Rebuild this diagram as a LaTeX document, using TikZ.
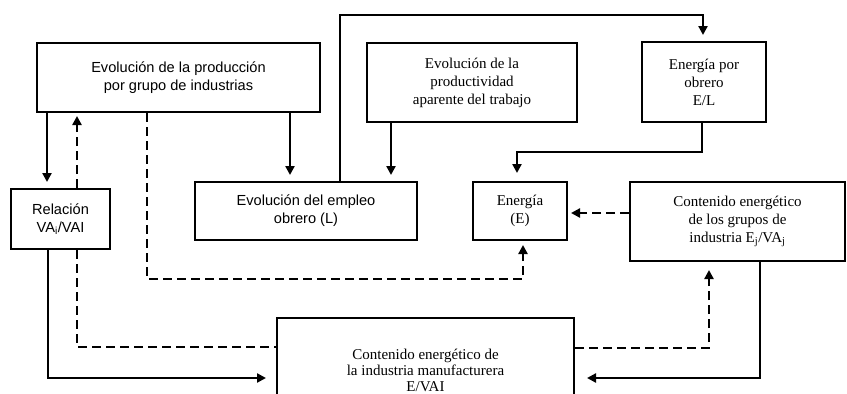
\documentclass[tikz,border=0pt]{standalone}
\usepackage{fontspec}
\setmainfont{Liberation Serif}
\setsansfont{Liberation Sans}
\usetikzlibrary{arrows.meta}
\begin{document}
\begin{tikzpicture}[x=1pt,y=-1pt]
\tikzset{
    box/.style={draw, line width=2pt, align=center, inner sep=0pt, font=\fontsize{15}{18}\selectfont},
    boxS/.style={box, font=\sffamily\fontsize{14.6}{18}\selectfont},
    link/.style={line width=2.4pt, -{Triangle[length=9pt,width=9pt]}, shorten >=6pt},
    linkD/.style={link, dash pattern=on 9pt off 5pt},
    linkN/.style={line width=2.4pt},
    linkND/.style={linkN, dash pattern=on 9pt off 5pt}}

\useasboundingbox (0,0) rectangle (847,394);
\clip (0,0) rectangle (847,394);

% boxes
\node[boxS, minimum width=283pt, minimum height=69pt] (prod) at (178.5,77.5)
    {Evolución de la producción\\por grupo de industrias};
\node[box, minimum width=210pt, minimum height=79pt] (pap) at (472,82.5)
    {Evolución de la\\productividad\\aparente del trabajo};
\node[box, minimum width=124pt, minimum height=80pt] (eobr) at (704,82)
    {Energía por\\obrero\\E/L};
\node[boxS, minimum width=99pt, minimum height=60pt] (rel) at (60.5,219)
    {Relación\\VA\textsubscript{i}/VAI};
\node[boxS, minimum width=222pt, minimum height=58pt] (empl) at (306,211)
    {Evolución del empleo\\obrero (L)};
\node[box, minimum width=94pt, minimum height=58pt] (ener) at (520,211)
    {Energía\\(E)};
\node[box, minimum width=215pt, minimum height=79pt] (grup) at (737.5,221.5)
    {Contenido energético\\de los grupos de\\industria E\textsubscript{j}/VA\textsubscript{j}};
\node[box, minimum width=297pt, minimum height=104pt, font=\fontsize{15}{16}\selectfont] (manu) at (425.5,370)
    {Contenido energético de\\la industria manufacturera\\E/VAI};

% connectors
\draw[link] (prod.south -| 47,0) -- (rel.north -| 47,0);
\draw[linkD, shorten >=3pt] (rel.north -| 77,0) -- (prod.south -| 77,0);
\draw[linkD, shorten >=4pt] (prod.south -| 147,0) |- (523,279) -- (ener.south -| 523,0);
\draw[link] (prod.south -| 290,0) -- (empl.north -| 290,0);
\draw[link] (pap.south -| 391,0) -- (empl.north -| 391,0);
\draw[link] (empl.north -| 340,0) |- (703,15) -- (eobr.north -| 703,0);
\draw[link, shorten >=8pt] (eobr.south -| 702,0) |- (517,152) -- (ener.north -| 517,0);
\draw[linkD, shorten >=3pt] (grup.west |- 0,213) -- (ener.east |- 0,213);
\draw[link, shorten >=10pt] (rel.south -| 48,0) |- (manu.west |- 0,378);
\draw[linkND] (rel.south -| 77,0) |- (manu.west |- 0,347);
\draw[linkD, shorten >=8pt] (manu.east |- 0,348) -| (grup.south -| 709,0);
\draw[link, shorten >=12pt] (grup.south -| 760,0) |- (manu.east |- 0,378);

\end{tikzpicture}
\end{document}
